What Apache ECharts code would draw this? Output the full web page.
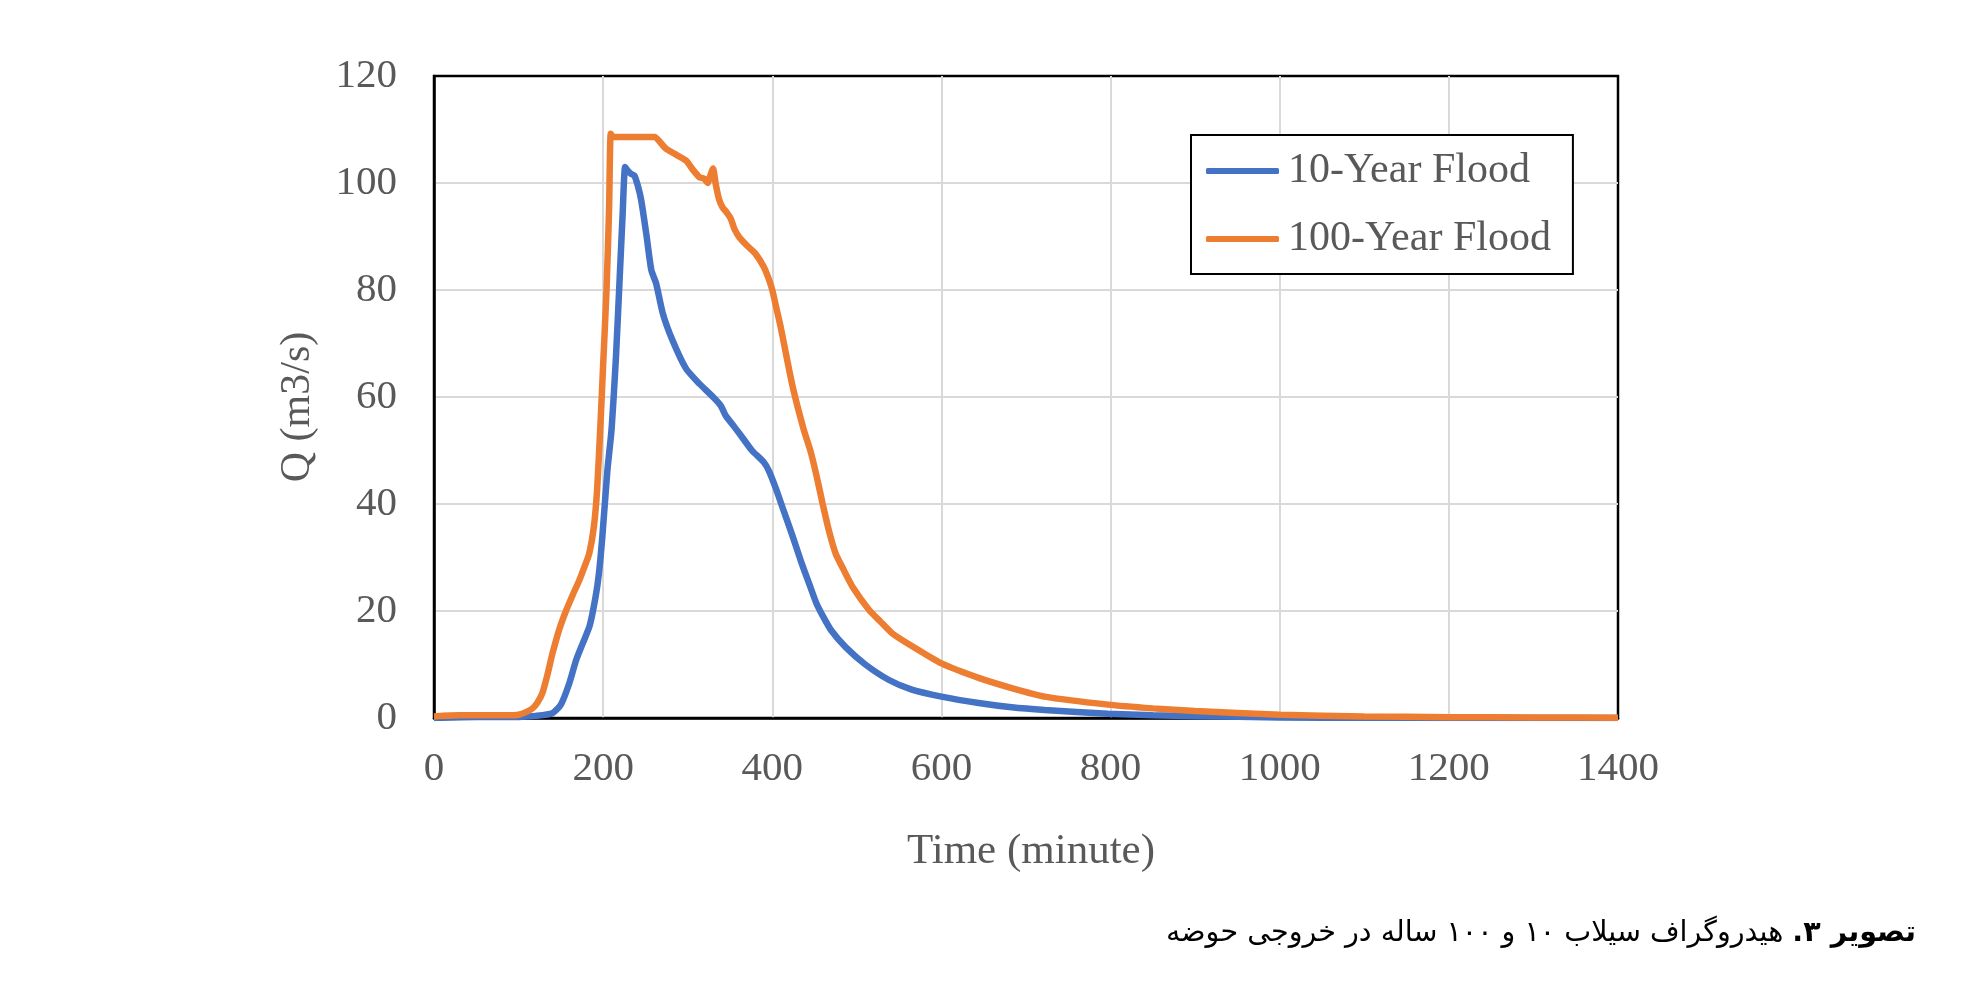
<!DOCTYPE html>
<html>
<head>
<meta charset="utf-8">
<script src="https://cdn.jsdelivr.net/npm/echarts@6.0.0/dist/echarts.min.js"></script>
<style>
  html, body { margin: 0; padding: 0; background: #fff; }
  #chart { width: 1979px; height: 996px; }
</style>
</head>
<body>
<div id="chart"></div>
<script>
// 10-year flood hydrograph (time in minutes, Q in m3/s)
var time10 = [0, 20, 50, 80, 100, 120, 140, 150, 160, 168, 176, 184, 191, 195, 199, 205, 210, 215, 219.6, 223, 226, 229, 233, 237, 241, 245, 251, 257, 262.7, 270.6, 282, 298, 313.7, 330, 339, 345, 352.8, 362, 376, 390, 396, 404, 412, 424, 435, 445, 452, 460, 470, 487, 510, 538, 565, 600, 644, 683, 722, 797, 850, 900, 1000, 1100, 1200, 1400];
var q10 = [0, 0.1, 0.2, 0.2, 0.2, 0.4, 0.9, 2.5, 6.5, 10.8, 14, 17.2, 22.6, 27, 33.8, 46.2, 54, 67, 82.4, 94, 103, 102.3, 101.7, 101.4, 99.5, 96.8, 90.5, 83.7, 81.2, 75.6, 70.6, 65.3, 62.5, 60, 58.4, 56.5, 54.9, 53, 50, 47.8, 46.2, 43, 39.4, 34, 28.8, 24.5, 21.5, 19, 16.3, 13.2, 10, 7.1, 5.3, 4, 2.8, 2, 1.5, 0.8, 0.5, 0.35, 0.1, 0.05, 0.02, 0];

// 100-year flood hydrograph
var time100 = [0, 30, 60, 90, 100, 110, 116.5, 122, 128, 134, 140, 148, 156, 164, 171.7, 178, 183.5, 189, 193, 197, 200, 204, 207, 209, 212, 261, 268, 274.5, 284, 298, 306, 313.7, 319.6, 323.5, 327, 330, 333, 337, 341, 346, 351, 355, 360.8, 370, 380, 390, 396, 400, 405, 410, 424, 437, 445, 452, 459.6, 467, 475, 485, 495, 514.5, 528, 542, 565.5, 600, 644, 683, 722, 797, 850, 900, 1000, 1100, 1200, 1300, 1400];
var q100 = [0.3, 0.5, 0.5, 0.5, 0.6, 1.2, 1.8, 2.8, 4.6, 8, 12, 16.5, 20, 23, 25.7, 28.3, 30.7, 35.7, 43, 55.5, 66, 80, 95, 109.2, 108.6, 108.6, 107.5, 106.4, 105.5, 104.2, 102.5, 101.1, 100.8, 100, 101.5, 102.7, 99.9, 97, 95.5, 94.5, 93.3, 91.5, 89.9, 88.3, 86.8, 84.3, 82, 80, 76.5, 73, 62, 54, 50, 45.5, 40, 35, 30.7, 27.5, 24.5, 20.2, 18, 15.8, 13.4, 10.2, 7.5, 5.6, 4, 2.5, 1.8, 1.3, 0.6, 0.3, 0.15, 0.1, 0.05];

var seriesNames = ['10-Year Flood', '100-Year Flood'];
var seriesColors = ['#4472C4', '#ED7D31'];
var xTicks = { min: 0, max: 1400, interval: 200 };
var yTicks = { min: 0, max: 120, interval: 20 };
var xTitle = 'Time (minute)';
var yTitle = 'Q (m3/s)';

var captionBold = 'تصویر ۳.';
var captionRest = 'هیدروگراف سیلاب ۱۰ و ۱۰۰ ساله در خروجی حوضه';

function pairs(xs, ys) {
  return xs.map(function (x, i) { return [x, ys[i]]; });
}

var serif = '"Liberation Serif", "Times New Roman", serif';
var capFont = '"DejaVu Sans", sans-serif';
var capSize = 28.6;

// measure bold part so the regular part can sit to its left (RTL)
var ctx = document.createElement('canvas').getContext('2d');
ctx.font = 'bold ' + capSize + 'px ' + capFont;
var boldW = ctx.measureText(captionBold).width;
ctx.font = capSize + 'px ' + capFont;
var spaceW = ctx.measureText(' ').width;
var capRight = 1916;
var capY = 938;

var chart = echarts.init(document.getElementById('chart'), null, { renderer: 'canvas' });
chart.setOption({
  backgroundColor: '#fff',
  animation: false,
  grid: {
    left: 434, right: 361, top: 76, bottom: 278,
    show: true, borderColor: '#000', borderWidth: 2.5, backgroundColor: '#fff'
  },
  legend: {
    orient: 'vertical',
    left: 1191, top: 135,
    padding: [15, 22, 14, 15],
    itemGap: 26,
    itemWidth: 73,
    itemHeight: 6,
    icon: 'roundRect',
    borderColor: '#000', borderWidth: 2,
    backgroundColor: '#fff',
    textStyle: { fontFamily: serif, fontSize: 42, color: '#595959', padding: [0, 0, 0, 4] },
    data: seriesNames
  },
  xAxis: {
    type: 'value',
    min: xTicks.min, max: xTicks.max, interval: xTicks.interval,
    axisLine: { show: true, lineStyle: { color: '#000', width: 2.5 } },
    axisTick: { show: false },
    axisLabel: {
      margin: 31, fontFamily: serif, fontSize: 41, color: '#595959',
      formatter: function (v) { return String(v); }
    },
    splitLine: { show: true, showMinLine: false, showMaxLine: false, lineStyle: { color: '#d9d9d9', width: 2 } }
  },
  yAxis: {
    type: 'value',
    min: yTicks.min, max: yTicks.max, interval: yTicks.interval,
    axisLine: { show: true, lineStyle: { color: '#000', width: 2.5 } },
    axisTick: { show: false },
    axisLabel: { margin: 37, fontFamily: serif, fontSize: 41, color: '#595959' },
    splitLine: { show: true, showMinLine: false, showMaxLine: false, lineStyle: { color: '#d9d9d9', width: 2 } }
  },
  series: [
    {
      name: seriesNames[0], type: 'line', data: pairs(time10, q10),
      symbol: 'none', smooth: 0.2,
      lineStyle: { color: seriesColors[0], width: 6.5 }, itemStyle: { color: seriesColors[0] }
    },
    {
      name: seriesNames[1], type: 'line', data: pairs(time100, q100),
      symbol: 'none', smooth: 0.2,
      lineStyle: { color: seriesColors[1], width: 6.5 }, itemStyle: { color: seriesColors[1] }
    }
  ],
  graphic: [
    {
      type: 'text', x: 1031, y: 852,
      style: {
        text: xTitle, font: '43px ' + serif, fill: '#595959',
        align: 'center', verticalAlign: 'middle'
      }
    },
    {
      type: 'text', x: 298, y: 407, rotation: Math.PI / 2,
      style: {
        text: yTitle, font: '42px ' + serif, fill: '#595959',
        align: 'center', verticalAlign: 'middle'
      }
    },
    {
      type: 'text', right: 1979 - capRight, top: capY - 19,
      style: {
        text: '\u202B' + captionBold + '\u202C',
        font: 'bold ' + capSize + 'px ' + capFont, fill: '#000'
      }
    },
    {
      type: 'text', right: 1979 - capRight + boldW + spaceW, top: capY - 19,
      style: {
        text: '\u202B' + captionRest + '\u202C',
        font: capSize + 'px ' + capFont, fill: '#000'
      }
    }
  ]
});
</script>
</body>
</html>
